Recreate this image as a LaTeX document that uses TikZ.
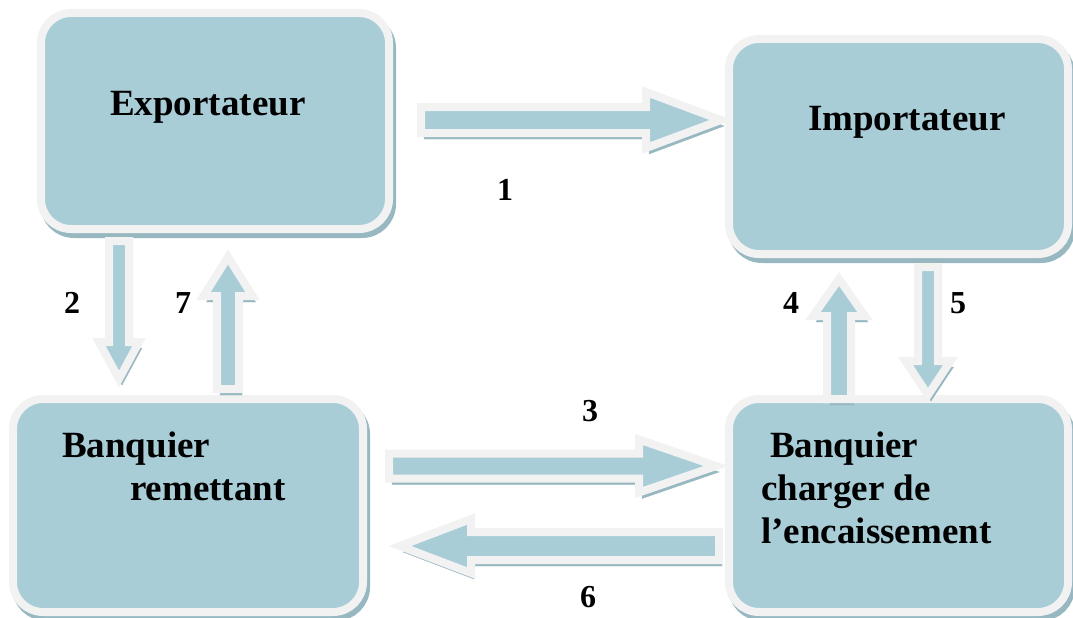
\documentclass[tikz,border=0pt]{standalone}
\usepackage{fontspec}
\setmainfont{Liberation Serif}
\usetikzlibrary{calc}

\definecolor{boxblue}{RGB}{168,205,215}
\definecolor{rim}{RGB}{242,242,242}
\definecolor{shade}{RGB}{152,184,193}

\tikzset{
  panel/.style={rectangle, rounded corners=30pt, inner sep=0pt,
    draw=rim, fill=boxblue, line width=8pt,
    preaction={draw=shade, fill=shade, transform canvas={shift={(3pt,-5pt)}}}},
  flow/.style={draw=rim, fill=boxblue, line width=8pt, line join=miter,
    preaction={draw=shade, fill=shade, transform canvas={shift={(3pt,-6pt)}}}},
  title/.style={font=\bfseries\fontsize{37}{43}\selectfont, anchor=base west, inner sep=0pt},
  num/.style={font=\bfseries\fontsize{32}{36}\selectfont, inner sep=0pt}
}

% block arrow: tail, tip, half shaft width, half head width, head length
\newcommand\blockarrow[5]{%
  \coordinate (#1-base) at ($(#2)!#5!(#1)$);
  \draw[flow] ($(#1)!#3!90:(#2)$) -- ($(#1-base)!#3!90:(#2)$)
    -- ($(#1-base)!#4!90:(#2)$) -- (#2)
    -- ($(#1-base)!#4!-90:(#2)$) -- ($(#1-base)!#3!-90:(#2)$)
    -- ($(#1)!#3!-90:(#2)$) -- cycle;
}

\begin{document}
\begin{tikzpicture}[x=1pt, y=-1pt]
\useasboundingbox (0,0) rectangle (1073,618);

% the four parties
\node[panel, minimum width=348pt, minimum height=216pt] (exp) at (215,121) {};
\node[panel, minimum width=339pt, minimum height=215pt] (imp) at (898.5,146.5) {};
\node[panel, minimum width=350pt, minimum height=213pt] (brem) at (188,505.5) {};
\node[panel, minimum width=339pt, minimum height=213pt] (benc) at (898.5,505.5) {};

\node[title] (texp) at (110,115) {Exportateur};
\node[title] (timp) at (808,130) {Importateur};
\node[title] (trem1) at (62,457) {Banquier};
\node[title] (trem2) at (130,500) {remettant};
\node[title] (tenc1) at (770,457) {Banquier};
\node[title] (tenc2) at (761,500) {charger de};
\node[title] (tenc3) at (761,543) {l’encaissement};

% arrow end points
\coordinate (a1t) at (421,120);  \coordinate (a1h) at (721,120);
\coordinate (a3t) at (389,466);  \coordinate (a3h) at (716,466);
\coordinate (a6t) at (719,546);  \coordinate (a6h) at (400,546);
\coordinate (a2t) at (119,241);  \coordinate (a2h) at (119,379);
\coordinate (a7t) at (228,389);  \coordinate (a7h) at (228,257);
\coordinate (a4t) at (839,399);  \coordinate (a4h) at (839,279);
\coordinate (a5t) at (928,267);  \coordinate (a5h) at (928,395);

\blockarrow{a1t}{a1h}{13pt}{28pt}{75pt}
\blockarrow{a3t}{a3h}{12.5pt}{26.5pt}{77pt}
\blockarrow{a6t}{a6h}{14pt}{27pt}{71pt}
\blockarrow{a2t}{a2h}{10pt}{20pt}{37pt}
\blockarrow{a7t}{a7h}{11pt}{24.5pt}{39pt}
\blockarrow{a4t}{a4h}{12pt}{26pt}{37pt}
\blockarrow{a5t}{a5h}{10pt}{22.5pt}{34pt}

% step numbers
\node[num] (n1) at (505,190) {1};
\node[num] (n2) at (72,303) {2};
\node[num] (n7) at (183,303) {7};
\node[num] (n4) at (791,303) {4};
\node[num] (n5) at (958,303) {5};
\node[num] (n3) at (590,411) {3};
\node[num] (n6) at (588,597) {6};
\end{tikzpicture}
\end{document}
